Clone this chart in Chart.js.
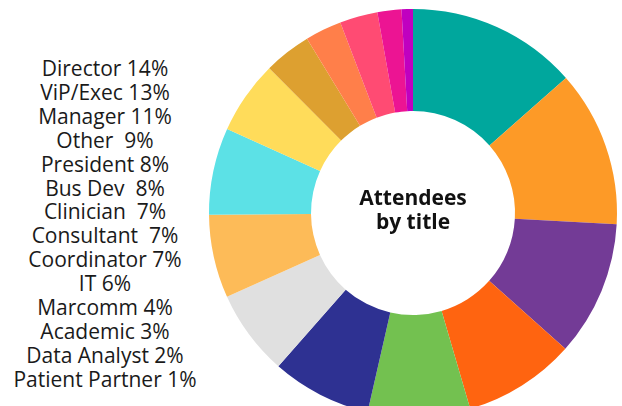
<!DOCTYPE html>
<html>
<head>
<meta charset="utf-8">
<script src="https://cdn.jsdelivr.net/npm/chart.js@4"></script>
<style>
    html, body { margin: 0; padding: 0; background: #fff; overflow: hidden; }
    #wrap { position: absolute; left: 0; top: 0; width: 622px; height: 426px; }
    #titles {
        position: absolute; left: 0; top: 57px; width: 210px;
        font-family: "Open Sans", sans-serif; font-size: 21px; line-height: 23.9px;
        color: #1a1a1a; text-align: center; white-space: pre;
    }
</style>
</head>
<body>
<div id="titles"></div>
<div id="wrap"><canvas id="myChart"></canvas></div>
<script>
// legend lines as shown on the left
const titleNames = ["Director", "ViP/Exec", "Manager", "Other ", "President", "Bus Dev ", "Clinician ",
    "Consultant ", "Coordinator", "IT", "Marcomm", "Academic", "Data Analyst", "Patient Partner"];
const titlePercents = [14, 13, 11, 9, 8, 8, 7, 7, 7, 6, 4, 3, 2, 1];

// slices of the ring, clockwise from 12 o'clock (share of the circle, %)
const sliceLabels = ["Director", "ViP/Exec", "Manager", "Other", "President", "Bus Dev", "Clinician",
    "Consultant", "Coordinator", "IT", "Marcomm", "Academic", "Data Analyst", "Patient Partner", "Unlisted"];
const sliceValues = [13.5, 12.4, 10.7, 8.9, 8.1, 7.9, 6.8, 6.6, 6.9, 5.8, 3.75, 2.9, 3.0, 1.9, 0.9];
const sliceColors = ["#00A79D", "#FD9A27", "#733B96", "#FF6410", "#73C150", "#2E3192", "#E0E0E0",
    "#FDBB58", "#5CE1E6", "#FFDC5A", "#DDA030", "#FF7F4A", "#FF4B73", "#EC1493", "#C000C0"];

const centerText = ["Attendees", "by title"];

document.getElementById("titles").textContent =
    titleNames.map((n, i) => n + " " + titlePercents[i] + "%").join("\n");

const centerLabel = {
    id: "centerLabel",
    afterDraw(chart) {
        const arc = chart.getDatasetMeta(0).data[0];
        if (!arc) return;
        const ctx = chart.ctx;
        ctx.save();
        ctx.font = "bold 21px 'Open Sans', sans-serif";
        ctx.fillStyle = "#111";
        ctx.textAlign = "center";
        ctx.textBaseline = "alphabetic";
        ctx.fillText(centerText[0], arc.x, arc.y - 8);
        ctx.fillText(centerText[1], arc.x, arc.y + 16);
        ctx.restore();
    }
};

const ctx = document.getElementById("myChart").getContext("2d");
window.myChart = new Chart(ctx, {
    type: "doughnut",
    data: {
        labels: sliceLabels,
        datasets: [{
            data: sliceValues,
            backgroundColor: sliceColors,
            borderWidth: 0
        }]
    },
    options: {
        responsive: true,
        maintainAspectRatio: false,
        animation: false,
        cutout: "50%",
        layout: { padding: { left: 209, right: 5, top: 9, bottom: 9 } },
        plugins: {
            legend: { display: false },
            tooltip: { enabled: false }
        }
    },
    plugins: [centerLabel]
});
</script>
</body>
</html>
